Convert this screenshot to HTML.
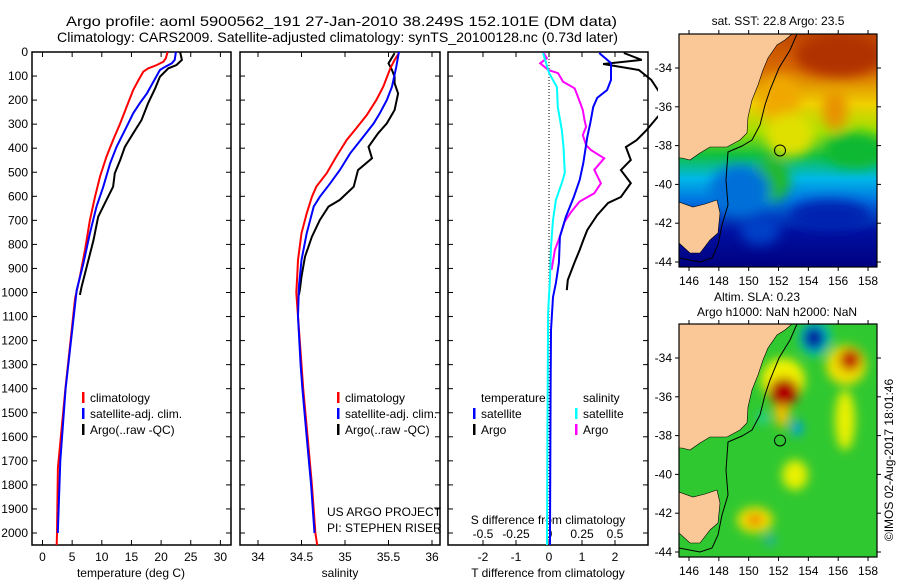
<!DOCTYPE html>
<html><head><meta charset="utf-8"><style>
html,body{margin:0;padding:0;background:#fff;}
svg{display:block;font-family:"Liberation Sans",sans-serif;}
</style></head><body>
<svg id="chart" width="900" height="580" viewBox="0 0 900 580" xmlns="http://www.w3.org/2000/svg">
<defs>
<filter id="blur1" x="-20%" y="-20%" width="140%" height="140%"><feGaussianBlur stdDeviation="6"/></filter>
<filter id="blur2" x="-20%" y="-20%" width="140%" height="140%"><feGaussianBlur stdDeviation="5"/></filter>
<clipPath id="clipM1"><rect x="679" y="34" width="198" height="233"/></clipPath>
<clipPath id="clipM2"><rect x="679" y="324" width="198" height="233"/></clipPath>
<clipPath id="clipP3"><rect x="448" y="52" width="210" height="493"/></clipPath>
<linearGradient id="sstg" x1="0" y1="0" x2="0" y2="1">
<stop offset="0" stop-color="#c04800"/><stop offset="0.15" stop-color="#d86a00"/><stop offset="0.3" stop-color="#f0d000"/>
<stop offset="0.42" stop-color="#9ee000"/><stop offset="0.52" stop-color="#10c040"/><stop offset="0.62" stop-color="#00b8e8"/>
<stop offset="0.72" stop-color="#0070e0"/><stop offset="0.85" stop-color="#0010a0"/><stop offset="1" stop-color="#000080"/>
</linearGradient>
</defs>
<text x="66" y="26" font-size="14" textLength="551" lengthAdjust="spacingAndGlyphs">Argo profile: aoml 5900562_191 27-Jan-2010 38.249S 152.101E (DM data)</text>
<text x="57" y="42" font-size="14" textLength="561" lengthAdjust="spacingAndGlyphs">Climatology: CARS2009. Satellite-adjusted climatology: synTS_20100128.nc (0.73d later)</text>
<g id="panels"></g>
<g id="maps"></g>
</svg>
<script>
// ---- data (depth in m) ----
const tClimDepth=[0,26,40,54,68,82,116,158,227,297,366,435,518,602,699,823,934,1024,1400,1730,2000,2050];
const tClimVal=[21.1,20.8,20.4,19.3,17.8,17.0,16.2,15.3,14.2,13.1,11.9,10.8,9.7,8.85,8.0,7.17,6.3,5.5,3.86,2.6,2.45,2.4];
const tSatDepth=[0,33,47,61,75,110,172,213,255,310,394,463,560,643,754,879,990,1400,1700,2000];
const tSatVal=[22.5,22.3,21.8,20.7,19.8,19.0,17.6,16.4,15.3,14.2,12.5,11.4,10.25,9.1,8.0,6.9,5.77,3.9,3.0,2.58];
const tArgoDepth=[0,33,54,68,103,151,213,283,338,394,449,504,560,615,685,782,893,976,1010];
const tArgoVal=[23.2,23.5,22.6,21.2,19.8,19.0,17.8,16.7,15.3,13.9,13.1,12.2,11.9,10.8,9.4,8.6,7.45,6.6,6.3];
const sClimDepth=[5,33,69,144,200,262,317,366,435,504,560,602,671,754,865,934,1000,1100,1300,1400,1600,1800,2000,2050];
const sClimVal=[35.62,35.57,35.52,35.44,35.36,35.25,35.13,35.02,34.90,34.79,34.67,34.62,34.56,34.50,34.46,34.45,34.44,34.46,34.50,34.52,34.57,34.62,34.66,34.68];
const sSatDepth=[0,61,144,200,255,297,352,421,491,546,602,643,754,865,976,1100,1300,1400,1600,1800,2000];
const sSatVal=[35.62,35.59,35.54,35.48,35.40,35.33,35.21,35.06,34.94,34.83,34.71,34.64,34.56,34.50,34.47,34.46,34.49,34.51,34.56,34.61,34.65];
const sArgoDepth=[5,47,75,103,130,172,241,297,338,394,442,491,560,615,643,699,768,851,934,990,1010];
const sArgoVal=[35.57,35.50,35.54,35.57,35.57,35.61,35.57,35.48,35.38,35.27,35.31,35.15,35.10,34.94,34.81,34.71,34.62,34.54,34.50,34.48,34.47];
const dTSatDepth=[4,46,116,158,191,229,295,353,462,532,603,686,769,877,960,1019,1156,1400,2000,2050];
const dTSatVal=[1.52,1.88,1.88,1.76,1.46,1.34,1.25,1.16,1.04,0.93,0.75,0.51,0.33,0.30,0.21,0.12,0.06,0.05,0.03,0.03];
const dTArgoDepth=[4,33,50,75,116,220,324,366,395,449,491,545,603,628,678,740,782,823,873,948,990];
const dTArgoVal=[2.27,2.81,1.64,2.72,3.1,3.6,2.96,2.66,2.33,2.48,2.18,2.48,2.18,1.79,1.46,1.16,1.04,0.93,0.78,0.57,0.54];
const dSSatDepth=[4,87,146,229,324,395,503,545,615,699,811,948,1085,1400,1600,2000,2050];
const dSSatVal=[-0.045,0,0.06,0.067,0.097,0.11,0.12,0.097,0.052,0.03,0.015,0.007,-0.007,-0.01,-0.012,-0.015,-0.015];
const dSArgoDepth=[3,26,47,75,88,124,151,186,241,283,311,345,387,408,442,490,546,587,622,664,705,768,823,865,906];
const dSArgoVal=[-0.042,-0.017,-0.067,-0.005,0.069,0.107,0.194,0.219,0.256,0.269,0.281,0.256,0.281,0.318,0.418,0.343,0.393,0.343,0.231,0.169,0.119,0.082,0.045,0.032,0.02];
const depthTicks=[0,100,200,300,400,500,600,700,800,900,1000,1100,1200,1300,1400,1500,1600,1700,1800,1900,2000];
const tempTicks=[0,5,10,15,20,25,30];
const salTicks=[34,34.5,35,35.5,36];
const dTTicks=[-2,-1,0,1,2];
const dSTicks=[-0.5,-0.25,0,0.25,0.5];
const lonTicks=[146,148,150,152,154,156,158];
const latTicks=[-34,-36,-38,-40,-42,-44];

const NS="http://www.w3.org/2000/svg";
function mk(tag,attrs,parent){const e=document.createElementNS(NS,tag);for(const k in attrs)e.setAttribute(k,attrs[k]);parent.appendChild(e);return e;}
const yD=d=>52+0.2405*d;
const xT=t=>42.5+5.93*t;
const xS=s=>258+87*(s-34);
const xdT=t=>549+33*t;
const xdS=s=>549+132*s;
const P=document.getElementById('panels');
const panels=[[32,231],[240,440],[448,648]];
panels.forEach((p,i)=>{
  const r=mk('rect',{x:p[0],y:52,width:p[1]-p[0],height:493,fill:'none',stroke:'#000','stroke-width':1.5},P);
  
  
  depthTicks.forEach(d=>{
    mk('line',{x1:p[0],x2:p[0]+5,y1:yD(d),y2:yD(d),stroke:'#000'},P);
    mk('line',{x1:p[1],x2:p[1]-5,y1:yD(d),y2:yD(d),stroke:'#000'},P);
  });
});
depthTicks.forEach(d=>{
  const t=mk('text',{x:28,y:yD(d)+4,'font-size':12,'text-anchor':'end'},P);t.textContent=d;
  
  
});
function xticks(vals,fx,labels,ly){
  vals.forEach((v,i)=>{
    const x=fx(v);
    mk('line',{x1:x,x2:x,y1:52,y2:57,stroke:'#000'},P);
    mk('line',{x1:x,x2:x,y1:545,y2:540,stroke:'#000'},P);
    const t=mk('text',{x:x,y:ly,'font-size':12,'text-anchor':'middle'},P);t.textContent=labels[i];
    
    
  });
}
xticks(tempTicks,xT,tempTicks.map(String),561);
xticks(salTicks,xS,salTicks.map(String),561);
xticks(dTTicks,xdT,dTTicks.map(String),561);
dSTicks.forEach(v=>{const t=mk('text',{x:xdS(v),y:538,'font-size':12,'text-anchor':'middle'},P);t.textContent=String(v);
  
  });
function label(txt,x,y,name,anchor){const t=mk('text',{x:x,y:y,'font-size':12,'text-anchor':anchor||'middle'},P);t.textContent=txt;
  
  return t;}
label('temperature (deg C)',131,577,'x-axis-title-temperature');
label('salinity',340,577,'x-axis-title-salinity');
label('T difference from climatology',548,577,'x-axis-title-t-diff');
label('S difference from climatology',548,524,'axis-title-s-diff');
label('US ARGO PROJECT',327,516,'project-label','start');
label('PI: STEPHEN RISER',327,532,'pi-label','start');
const zl=mk('line',{x1:549,x2:549,y1:53,y2:544,stroke:'#000','stroke-dasharray':'1,2'},P);


const P3=mk('g',{'clip-path':'url(#clipP3)'},P);
function series(ds,vs,fx,color,name,parent){
  const pts=ds.map((d,i)=>fx(vs[i]).toFixed(1)+','+yD(d).toFixed(1)).join(' ');
  const l=mk('polyline',{points:pts,fill:'none',stroke:color,'stroke-width':2},parent||P);
  
  
}
series(tArgoDepth,tArgoVal,xT,'#000','temp-argo-line');
series(tClimDepth,tClimVal,xT,'#f00','temp-clim-line');
series(tSatDepth,tSatVal,xT,'#00f','temp-sat-line');
series(sArgoDepth,sArgoVal,xS,'#000','sal-argo-line');
series(sClimDepth,sClimVal,xS,'#f00','sal-clim-line');
series(sSatDepth,sSatVal,xS,'#00f','sal-sat-line');
series(dTArgoDepth,dTArgoVal,xdT,'#000','tdiff-argo-line',P3);
series(dSArgoDepth,dSArgoVal,xdS,'#f0f','sdiff-argo-line',P3);
series(dSSatDepth,dSSatVal,xdS,'#0ff','sdiff-sat-line',P3);
series(dTSatDepth,dTSatVal,xdT,'#00f','tdiff-sat-line',P3);
function leg(x,y,color,txt,name){
  const b=mk('rect',{x:x,y:y-10,width:2.5,height:11,fill:color},P);
  
  
  label(txt,x+8,y,name,'start');
}
[82,337].forEach(x=>{
  leg(x,402,'#f00','climatology','legend-climatology');
  leg(x,418,'#00f','satellite-adj. clim.','legend-satellite-adj');
  leg(x,434,'#000','Argo(..raw -QC)','legend-argo');
});
label('temperature',481,402,'legend-temperature-header','start');
label('salinity',583,402,'legend-salinity-header','start');
leg(473,418,'#00f','satellite','legend-t-satellite');
leg(473,434,'#000','Argo','legend-t-argo');
leg(575,418,'#0ff','satellite','legend-s-satellite');
leg(575,434,'#f0f','Argo','legend-s-argo');

// ---- maps ----
const M=document.getElementById('maps');
const mx=lon=>689+(lon-146)*14.92;
function land(off,g){
  const main=[[679,34],[792,34],[785,40],[777,45],[768,58],[763,70],[758,85],[752,100],[748,117],[747,133],[740,140],[727,147],[710,147],[700,153],[690,160],[682,158],[679,158]];
  const tas=[[679,202],[693,207],[705,204],[717,200],[720,213],[718,233],[710,240],[700,253],[690,253],[679,243]];
  [main,tas].forEach((pl,i)=>{
    const e=mk('polygon',{points:pl.map(p=>p[0]+','+(p[1]+off)).join(' '),fill:'#fac896',stroke:'#000','stroke-width':0.6},g);
    
    
  });
  const iso=[[797,34],[790,50],[779,68],[770,90],[765,105],[760,125],[752,140],[742,146],[728,152],[726,180],[728,205],[722,225],[718,245],[712,258],[700,262],[679,258]];
  const c=mk('polyline',{points:iso.map(p=>p[0]+','+(p[1]+off)).join(' '),fill:'none',stroke:'#000','stroke-width':1},g);
  
  
}
function mapFrame(off,name){
  const f=mk('rect',{x:679,y:34+off,width:198,height:233,fill:'none',stroke:'#000','stroke-width':1.2},M);
  
  
  lonTicks.forEach(l=>{const x=mx(l);mk('line',{x1:x,x2:x,y1:34+off,y2:30+off,stroke:'#000'},M);mk('line',{x1:x,x2:x,y1:267+off,y2:271+off,stroke:'#000'},M);
    const t=mk('text',{x:x,y:285+off,'font-size':12,'text-anchor':'middle'},M);t.textContent=l;
    
    });
  latTicks.forEach(l=>{const y=68+off+(-34-l)*19.4;mk('line',{x1:679,x2:675,y1:y,y2:y,stroke:'#000'},M);mk('line',{x1:877,x2:881,y1:y,y2:y,stroke:'#000'},M);
    const t=mk('text',{x:672,y:y+4,'font-size':12,'text-anchor':'end'},M);t.textContent=l;
    
    });
  const c=mk('circle',{cx:mx(152.1),cy:68+off+4.25*19.4,r:5.5,fill:'none',stroke:'#000','stroke-width':1},M);
  
  
}
const g1=mk('g',{'clip-path':'url(#clipM1)'},M);


mk('rect',{x:679,y:34,width:198,height:233,fill:'url(#sstg)'},g1);
const b1=mk('g',{filter:'url(#blur1)'},g1);
[['ellipse',{cx:840,cy:55,rx:45,ry:22,fill:'#b03000'}],['ellipse',{cx:780,cy:100,rx:20,ry:25,fill:'#f0a800'}],
 ['ellipse',{cx:835,cy:110,rx:12,ry:20,fill:'#e89000'}],['ellipse',{cx:790,cy:135,rx:25,ry:22,fill:'#e0e000'}],
 ['ellipse',{cx:855,cy:150,rx:30,ry:18,fill:'#10b830'}],['ellipse',{cx:770,cy:180,rx:20,ry:22,fill:'#20b820'}],
 ['ellipse',{cx:740,cy:190,rx:30,ry:25,fill:'#0070d8'}],['ellipse',{cx:830,cy:215,rx:40,ry:15,fill:'#0020b0'}],
 ['ellipse',{cx:760,cy:230,rx:20,ry:15,fill:'#0040c8'}]].forEach(a=>mk(a[0],a[1],b1));
land(0,g1);
mapFrame(0,'sst-map');
const g2=mk('g',{'clip-path':'url(#clipM2)'},M);


mk('rect',{x:679,y:324,width:198,height:233,fill:'#30c830'},g2);
const b2=mk('g',{filter:'url(#blur2)'},g2);
[['ellipse',{cx:815,cy:338,rx:16,ry:18,fill:'#00c0c0'}],['ellipse',{cx:814,cy:338,rx:11,ry:12,fill:'#0020a0'}],
 ['ellipse',{cx:783,cy:380,rx:22,ry:22,fill:'#f0f000'}],['ellipse',{cx:782,cy:408,rx:8,ry:20,fill:'#f0c000'}],
 ['ellipse',{cx:784,cy:392,rx:15,ry:14,fill:'#b00000'}],['ellipse',{cx:846,cy:365,rx:20,ry:20,fill:'#f0e000'}],
 ['ellipse',{cx:845,cy:420,rx:10,ry:30,fill:'#e8f000'}],['ellipse',{cx:850,cy:360,rx:11,ry:11,fill:'#c02000'}],
 ['ellipse',{cx:795,cy:475,rx:13,ry:15,fill:'#e8f000'}],['ellipse',{cx:755,cy:520,rx:18,ry:13,fill:'#f0e000'}],
 ['ellipse',{cx:755,cy:520,rx:8,ry:6,fill:'#f08000'}],['ellipse',{cx:797,cy:428,rx:6,ry:8,fill:'#00a0e0'}],
 ['ellipse',{cx:763,cy:418,rx:6,ry:6,fill:'#20d0a0'}],['ellipse',{cx:770,cy:540,rx:6,ry:6,fill:'#20b0a0'}]].forEach(a=>mk(a[0],a[1],b2));
land(290,g2);
mapFrame(290,'sla-map');
function mt(txt,x,y,name){const t=mk('text',{x:x,y:y,'font-size':12,'text-anchor':'middle'},M);t.textContent=txt;
  
  return t;}
mt('sat. SST: 22.8 Argo: 23.5',778,25,'sst-map-title');
mt('Altim. SLA: 0.23',757,301,'sla-map-title');
mt('Argo h1000: NaN h2000: NaN',777,316,'sla-map-subtitle');
const cr=mt('©IMOS 02-Aug-2017 18:01:46',0,0,'copyright-label');
cr.setAttribute('transform','translate(893,460) rotate(-90)');
</script>
</body></html>
